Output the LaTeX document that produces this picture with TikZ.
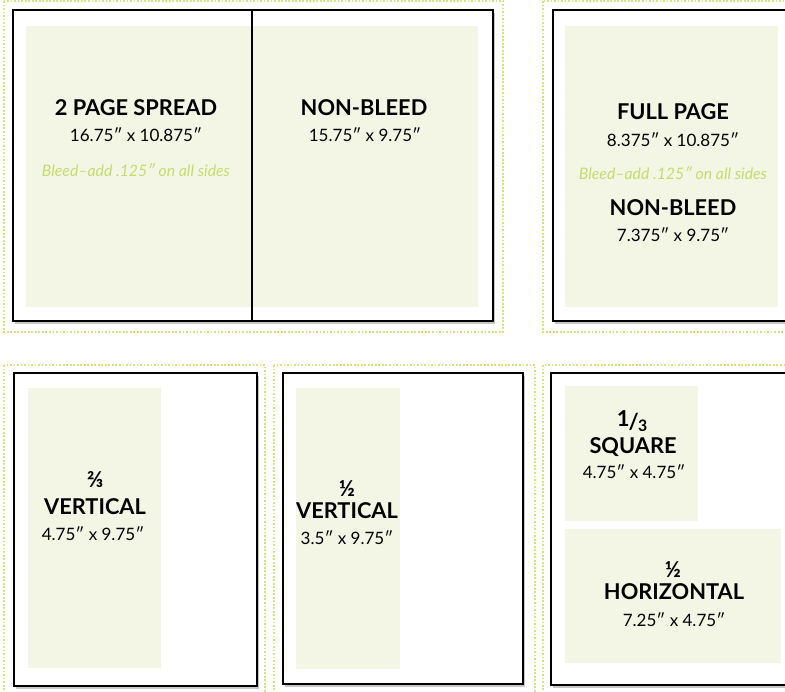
\documentclass[tikz,border=0pt]{standalone}
\usepackage{fontspec}
\setmainfont{Lato}
\usetikzlibrary{shadows}
\definecolor{livegreen}{HTML}{F3F6E5}
\definecolor{dotgreen}{HTML}{D5E27F}
\definecolor{bleedgreen}{HTML}{C4DC6C}
\tikzset{
  slot/.style={draw=dotgreen,line width=0.7pt,dash pattern=on 1pt off 1pt},
  sheet/.style={draw=black,line width=0.9pt,fill=white,
    drop shadow={shadow xshift=1.2pt,shadow yshift=-1.6pt,opacity=0.45}},
  live/.style={fill=livegreen},
  head/.style={font=\bfseries\fontsize{12.4}{13}\selectfont,inner sep=0pt,anchor=base},
  size/.style={font=\fontsize{9.7}{11}\selectfont,inner sep=0pt,anchor=base},
  bleed/.style={font=\itshape\fontsize{9}{10}\selectfont,text=bleedgreen,inner sep=0pt,anchor=base},
  part/.style={font=\bfseries\fontsize{12.5}{13}\selectfont,inner sep=0pt,anchor=base}
}

\begin{document}
\begin{tikzpicture}[x=0.02cm,y=-0.02cm]
  \useasboundingbox (0,0) rectangle (785,692);
  \clip (0,0) rectangle (785,692);
  % top row: spread and full page
  \draw[slot] (4,1) rectangle (503,332);
  \draw[slot] (543,1) rectangle (800,332);
  \draw[sheet] (13,10) rectangle (493,321);
  \fill[live] (26,26) rectangle (478,307);
  \draw[black,line width=0.9pt] (252,10) -- (252,321);
  \node[head] (spread) at (136,116) {2 PAGE SPREAD};
  \node[size] (spreadsz) at (136,142) {16.75″ x 10.875″};
  \node[bleed] (spreadbl) at (136,177) {Bleed–add .125″ on all sides};
  \node[head] (spreadnb) at (364,116) {NON-BLEED};
  \node[size] (spreadnbsz) at (365,142) {15.75″ x 9.75″};

  \draw[sheet] (553,10) rectangle (800,321);
  \fill[live] (565,26) rectangle (778,307);
  \node[head] (full) at (673,120) {FULL PAGE};
  \node[size] (fullsz) at (673,147) {8.375″ x 10.875″};
  \node[bleed] (fullbl) at (673,180) {Bleed–add .125″ on all sides};
  \node[head] (fullnb) at (673,216) {NON-BLEED};
  \node[size] (fullnbsz) at (673,242) {7.375″ x 9.75″};

  % bottom row: fractional ads
  \draw[slot] (4,365) rectangle (265,700);
  \draw[slot] (274,365) rectangle (535,700);
  \draw[slot] (543,365) rectangle (800,700);

  \draw[sheet] (14,373) rectangle (257,686);
  \fill[live] (28,388) rectangle (161,668);
  \node[part] (twothirds) at (95,488) {⅔};
  \node[head] (twothirdsv) at (95,515) {VERTICAL};
  \node[size] (twothirdssz) at (93,541) {4.75″ x 9.75″};

  \draw[sheet] (283,373) rectangle (523,684);
  \fill[live] (296,388) rectangle (400,669);
  \node[part] (halfv) at (347,497) {½};
  \node[head] (halfvt) at (347,519) {VERTICAL};
  \node[size] (halfvsz) at (347,545) {3.5″ x 9.75″};

  \draw[sheet] (551,373) rectangle (800,685);
  \fill[live] (565,386) rectangle (698,521);
  \fill[live] (565,529) rectangle (781,663);
  \node[part] (third) at (632,430) {\raisebox{2pt}{1}\kern-0.5pt/\kern-0.5pt\raisebox{-1pt}{\fontsize{9}{10}\selectfont 3}};
  \node[head] (thirdt) at (633,454) {SQUARE};
  \node[size] (thirdsz) at (634,479) {4.75″ x 4.75″};
  \node[part] (halfh) at (673,578) {½};
  \node[head] (halfht) at (674,600) {HORIZONTAL};
  \node[size] (halfhsz) at (674,626) {7.25″ x 4.75″};
\end{tikzpicture}
\end{document}
